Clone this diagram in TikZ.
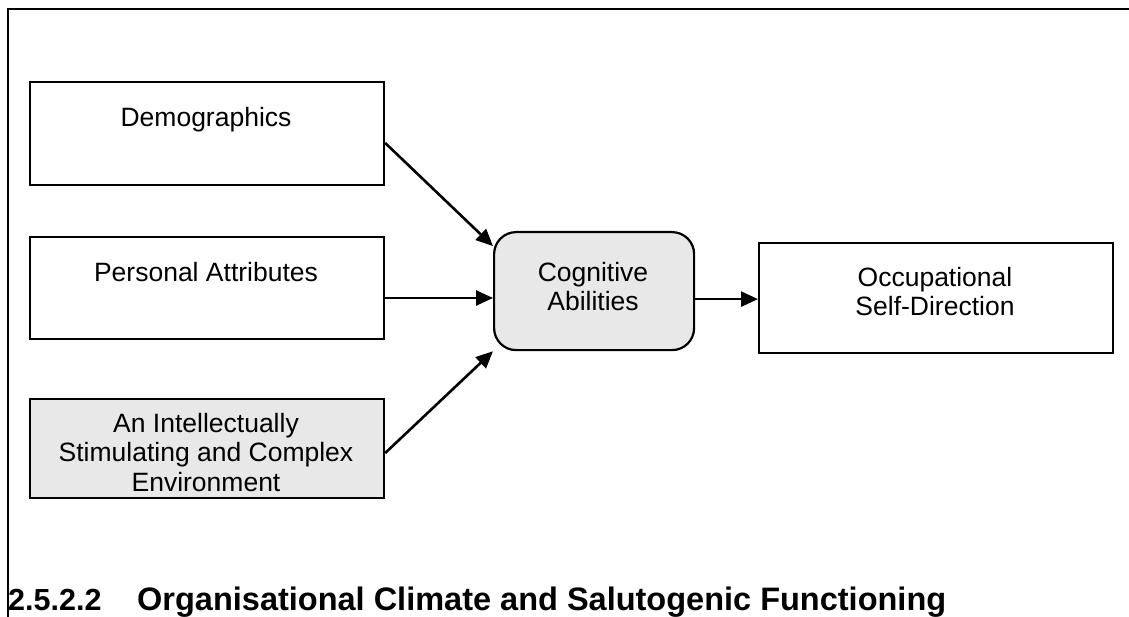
\documentclass[tikz,border=0pt]{standalone}
\usepackage{fontspec}
\setmainfont{Liberation Sans}
\usetikzlibrary{arrows.meta,calc}

\begin{document}
\begin{tikzpicture}[x=1pt,y=-1pt,
  box/.style={draw=black, line width=2.2pt, rectangle, inner sep=0pt, anchor=north west},
  greybox/.style={box, fill=black!9},
  roundbox/.style={box, fill=black!9, rounded corners=22pt},
  lbl/.style={font=\fontsize{26.5}{29.5}\selectfont, align=center, inner sep=0pt, anchor=base},
  link/.style={line width=2.6pt, -{Triangle[length=17pt,width=15pt]}},
  head/.style={font=\fontsize{32.5}{36}\selectfont\bfseries, inner sep=0pt, anchor=base west}]

\useasboundingbox (0,0) rectangle (1129,617);

% frame round the figure
\draw[line width=2.8pt] (8,617) -- (8,9) -- (1129,9);

% input factors
\node[box, minimum width=354pt, minimum height=103pt] (demo) at (29,81) {};
\node[lbl] (demot) at (206,127) {Demographics};

\node[box, minimum width=354pt, minimum height=102pt] (pers) at (29,236) {};
\node[lbl] (perst) at (206,282) {Personal Attributes};

\node[greybox, minimum width=354pt, minimum height=99pt] (env) at (29,398) {};
\node[lbl, anchor=north] (envt) at (206,413) {An Intellectually\\Stimulating and Complex\\Environment};

% mediator
\node[roundbox, minimum width=200pt, minimum height=118pt] (cog) at (493,231) {};
\node[lbl, anchor=north] (cogt) at (593,262) {Cognitive\\Abilities};

% outcome
\node[box, minimum width=354pt, minimum height=110pt] (occ) at (758,242) {};
\node[lbl, anchor=north] (occt) at (935,267) {Occupational\\Self-Direction};

% connectors
\coordinate (d0) at ($(demo.north east)+(0,62)$);
\coordinate (d1) at ($(cog.west)+(0,-45)$);
\draw[link] (d0) -- (d1);

\coordinate (p0) at ($(pers.north east)+(0,62)$);
\draw[link] (p0) -- (p0 -| cog.west);

\coordinate (e0) at ($(env.north east)+(0,55)$);
\draw[link] (e0) -- (cog.south west);

\coordinate (c0) at ($(cog.east)+(0,8)$);
\draw[link] (c0) -- (c0 -| occ.west);

% section heading below the figure
\node[head, font=\fontsize{30.5}{34}\selectfont\bfseries] (num) at (8,610) {2.5.2.2};
\node[head] (title) at (137,610) {Organisational Climate and Salutogenic Functioning};
\end{tikzpicture}
\end{document}
